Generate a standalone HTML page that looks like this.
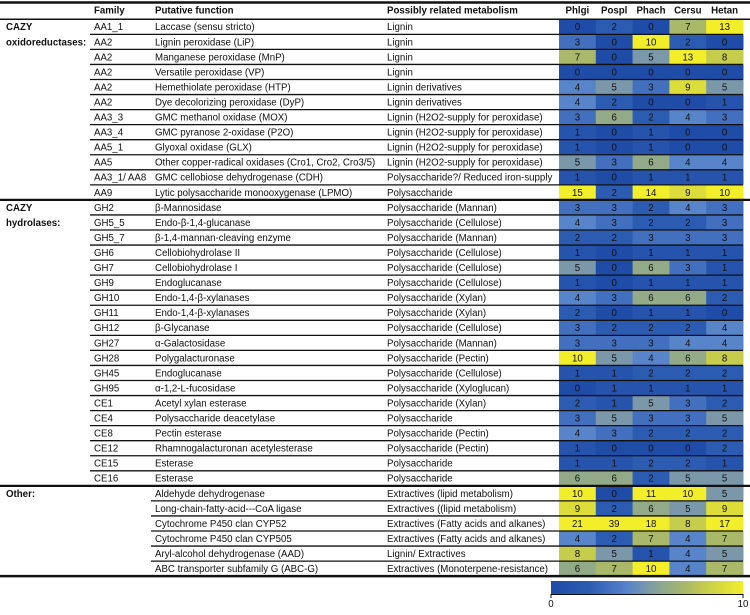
<!DOCTYPE html>
<html><head><meta charset="utf-8"><style>
body{margin:0;background:#fff;width:750px;height:610px;overflow:hidden}
svg text{font-family:"Liberation Sans",sans-serif;font-size:9.7px;fill:#111}
</style></head><body>
<svg id="chart" width="750" height="610" xmlns="http://www.w3.org/2000/svg"></svg>
<script>
const species=["Phlgi","Pospl","Phach","Cersu","Hetan"];
const families=["AA1_1","AA2","AA2","AA2","AA2","AA2","AA3_3","AA3_4","AA5_1","AA5","AA3_1/ AA8","AA9",
"GH2","GH5_5","GH5_7","GH6","GH7","GH9","GH10","GH11","GH12","GH27","GH28","GH45","GH95","CE1","CE4","CE8","CE12","CE15","CE16",
"","","","","",""];
const functions=["Laccase (sensu stricto)","Lignin peroxidase (LiP)","Manganese peroxidase (MnP)","Versatile peroxidase (VP)","Hemethiolate peroxidase (HTP)","Dye decolorizing peroxidase (DyP)","GMC methanol oxidase (MOX)","GMC pyranose 2-oxidase (P2O)","Glyoxal oxidase (GLX)","Other copper-radical oxidases (Cro1, Cro2, Cro3/5)","GMC cellobiose dehydrogenase (CDH)","Lytic polysaccharide monooxygenase (LPMO)",
"β-Mannosidase","Endo-β-1,4-glucanase","β-1,4-mannan-cleaving enzyme","Cellobiohydrolase II","Cellobiohydrolase I","Endoglucanase","Endo-1,4-β-xylanases","Endo-1,4-β-xylanases","β-Glycanase","α-Galactosidase","Polygalacturonase","Endoglucanase","α-1,2-L-fucosidase","Acetyl xylan esterase","Polysaccharide deacetylase","Pectin esterase","Rhamnogalacturonan acetylesterase","Esterase","Esterase",
"Aldehyde dehydrogenase","Long-chain-fatty-acid---CoA ligase","Cytochrome P450 clan CYP52","Cytochrome P450 clan CYP505","Aryl-alcohol dehydrogenase (AAD)","ABC transporter subfamily G (ABC-G)"];
const metabolism=["Lignin","Lignin","Lignin","Lignin","Lignin derivatives","Lignin derivatives","Lignin (H2O2-supply for peroxidase)","Lignin (H2O2-supply for peroxidase)","Lignin (H2O2-supply for peroxidase)","Lignin (H2O2-supply for peroxidase)","Polysaccharide?/ Reduced iron-supply","Polysaccharide",
"Polysaccharide (Mannan)","Polysaccharide (Cellulose)","Polysaccharide (Mannan)","Polysaccharide (Cellulose)","Polysaccharide (Cellulose)","Polysaccharide (Cellulose)","Polysaccharide (Xylan)","Polysaccharide (Xylan)","Polysaccharide (Cellulose)","Polysaccharide (Mannan)","Polysaccharide (Pectin)","Polysaccharide (Cellulose)","Polysaccharide (Xyloglucan)","Polysaccharide (Xylan)","Polysaccharide","Polysaccharide (Pectin)","Polysaccharide (Pectin)","Polysaccharide","Polysaccharide",
"Extractives (lipid metabolism)","Extractives ((lipid metabolism)","Extractives (Fatty acids and alkanes)","Extractives (Fatty acids and alkanes)","Lignin/ Extractives","Extractives (Monoterpene-resistance)"];
const phlgi=[0,3,7,0,4,4,3,1,1,5,1,15, 3,4,2,1,5,1,4,2,3,3,10,1,0,2,3,4,1,1,6, 10,9,21,4,8,6];
const pospl=[2,0,0,0,5,2,6,0,0,3,0,2, 3,3,2,0,0,0,3,0,2,3,5,1,1,1,5,3,0,1,6, 0,2,39,2,5,7];
const phach=[0,10,5,0,3,0,2,1,1,6,1,14, 2,2,3,1,6,1,6,1,2,3,4,2,1,5,3,2,0,2,2, 11,6,18,7,1,10];
const cersu=[7,2,13,0,9,0,4,0,0,4,1,9, 4,2,3,1,3,1,6,1,2,4,6,2,1,3,3,2,0,2,5, 10,5,8,4,4,4];
const hetan=[13,0,8,0,5,1,3,0,0,4,1,10, 3,3,3,1,1,1,2,0,4,4,8,2,1,2,5,2,2,1,5, 5,9,17,7,5,7];
const sections=[{label:["CAZY","oxidoreductases:"],start:0,count:12},{label:["CAZY","hydrolases:"],start:12,count:19},{label:["Other:"],start:31,count:6}];
const legendTicks=[0,10];
const series=[phlgi,pospl,phach,cersu,hetan];

const NS="http://www.w3.org/2000/svg";
const svg=document.getElementById('chart');
function mk(tag,attrs,parent){const e=document.createElementNS(NS,tag);for(const k in attrs)e.setAttribute(k,attrs[k]);(parent||svg).appendChild(e);return e;}
const y0=19.3,rh=15.05,cx0=559,cw=36.8;
const rowY=i=>y0+i*rh;
const colX=j=>cx0+j*cw;
const stops=[[0,[31,76,166]],[2,[44,92,178]],[4,[88,132,202]],[5,[122,152,170]],[6,[146,170,136]],[7,[170,184,106]],[8,[198,204,76]],[10,[242,238,42]]];
function color(v){v=Math.min(10,Math.max(0,v));for(let i=1;i<stops.length;i++){if(v<=stops[i][0]){const a=stops[i-1],b=stops[i],t=(v-a[0])/(b[0]-a[0]);const c=a[1].map((x,k)=>Math.round(x+(b[1][k]-x)*t));return `rgb(${c})`;}}return 'rgb(242,238,42)';}

let t;
const hdr=[["Family",94,"header-family"],["Putative function",155,"header-putative-function"],["Possibly related metabolism",387,"header-metabolism"]];
hdr.forEach(h=>{t=mk('text',{x:h[1],y:13.5,'font-weight':'bold'});t.textContent=h[0];

});
species.forEach((s,j)=>{t=mk('text',{x:colX(j)+cw/2,y:13.5,'text-anchor':'middle','font-weight':'bold'});t.textContent=s;

});

for(let i=0;i<functions.length;i++){
  const y=rowY(i);
  series.forEach((arr,j)=>{
    const r=mk('rect',{x:colX(j),y:y,width:cw+0.5,height:rh,fill:color(arr[i])});
    
    
    const v=mk('text',{x:colX(j)+cw/2,y:y+rh/2+3.4,'text-anchor':'middle'});v.textContent=arr[i];
    
    
  });
  if(families[i]){t=mk('text',{x:94,y:y+rh/2+3.4});t.textContent=families[i];
  
  }
  t=mk('text',{x:155,y:y+rh/2+3.4});t.textContent=functions[i];
  
  
  t=mk('text',{x:387,y:y+rh/2+3.4});t.textContent=metabolism[i];
  
  
}
sections.forEach((s,si)=>{
  s.label.forEach((l,k)=>{t=mk('text',{x:6,y:rowY(s.start+k)+rh/2+3.4,'font-weight':'bold'});t.textContent=l;
  
  });
  const lx=si==2?151:90;
  for(let k=1;k<s.count;k++){const yy=rowY(s.start+k);mk('line',{x1:lx,x2:743,y1:yy,y2:yy,stroke:'#111','stroke-width':1.3});}
  const yy=rowY(s.start);mk('line',{x1:0,x2:750,y1:yy,y2:yy,stroke:'#111','stroke-width':si==0?1.5:2.2});
});
mk('line',{x1:0,x2:750,y1:2.5,y2:2.5,stroke:'#111','stroke-width':2.5});
const yb=rowY(functions.length);mk('line',{x1:0,x2:750,y1:yb,y2:yb,stroke:'#111','stroke-width':2.5});
const defs=mk('defs',{});const g=mk('linearGradient',{id:'lg'},defs);
for(let v=0;v<=10;v+=0.5){mk('stop',{offset:(v*10)+'%','stop-color':color(v)},g);}
const lx0=551,lx1=743,sc=v=>lx0+(v-legendTicks[0])/(legendTicks[1]-legendTicks[0])*(lx1-lx0);
const lr=mk('rect',{x:lx0,y:581,width:lx1-lx0,height:13,fill:'url(#lg)'});


mk('line',{x1:lx0,x2:lx1,y1:594.5,y2:594.5,stroke:'#111','stroke-width':1});
legendTicks.forEach(v=>{mk('line',{x1:sc(v),x2:sc(v),y1:594,y2:598,stroke:'#111','stroke-width':1});
const tt=mk('text',{x:sc(v),y:607,'text-anchor':'middle','font-size':'8.5px'});tt.textContent=v;

});
</script>
</body></html>
